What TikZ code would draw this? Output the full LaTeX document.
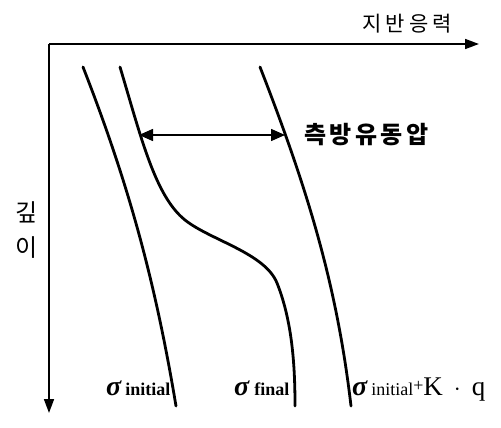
\documentclass[tikz,border=0pt]{standalone}
\usepackage{fontspec}
\setmainfont{Liberation Serif}
\newfontfamily\kr{Noto Sans CJK KR}
\usetikzlibrary{arrows.meta}
\tikzset{
  axis/.style={line width=1.6pt,-{Triangle[length=14pt,width=10pt]}},
  curve/.style={line width=2.8pt,line cap=round},
  dim/.style={line width=1.5pt,{Triangle[length=14pt,width=12pt]}-{Triangle[length=14pt,width=12pt]}},
  krlabel/.style={font=\kr\fontsize{21}{23}\selectfont,inner sep=0pt},
  siglabel/.style={inner sep=0pt,anchor=base west}
}
\newcommand\sig{{\fontsize{28}{30}\selectfont\bfseries\itshape σ}}
\begin{document}
\begin{tikzpicture}[x=1pt,y=-1pt]
\useasboundingbox (0,0) rectangle (501,428);
\coordinate (O) at (49,44);
\coordinate (X) at (479,44);
\coordinate (Y) at (49,413);
\draw[axis] (O) -- (X);
\draw[axis] (O) -- (Y);
% curves
\draw[curve] (83,67) .. controls (130,187) and (156,286) .. (176,406);
\draw[curve] (120,67) .. controls (141,137) and (155,196) .. (185,220)
  .. controls (210,240) and (265,253) .. (277,283)
  .. controls (293,323) and (295,370) .. (295,406);
\draw[curve] (260,67) .. controls (308,190) and (337,286) .. (351,406);
\coordinate (A1) at (139,135);
\coordinate (A2) at (285,135);
\draw[dim] (A1) -- (A2);
\node[krlabel,anchor=west,font=\kr\bfseries\fontsize{24}{26}\selectfont] (lat) at (304,135) {측\hspace{3.5pt}방\hspace{3.5pt}유\hspace{3.5pt}동\hspace{3.5pt}압};
\node[krlabel,anchor=east] (xl) at (452,24) {지\hspace{4pt}반\hspace{4pt}응\hspace{4pt}력};
\node[krlabel,font=\kr\fontsize{24}{26}\selectfont] (d1) at (27,212) {깊};
\node[krlabel,font=\kr\fontsize{24}{26}\selectfont] (d2) at (27,248) {이};
\node[siglabel] (s1) at (106,395) {\sig\hspace{4pt}{\fontsize{18}{20}\selectfont\bfseries initial}};
\node[siglabel] (s2) at (234,395) {\sig\hspace{5pt}{\fontsize{18}{20}\selectfont\bfseries final}};
\node[siglabel] (s3) at (352,395) {\sig\hspace{4pt}{\fontsize{18}{20}\selectfont initial}\raisebox{4pt}{\fontsize{18}{20}\selectfont +}{\fontsize{27}{29}\selectfont K\hspace{11pt}$\cdot$\hspace{11pt}q}};
\end{tikzpicture}
\end{document}
